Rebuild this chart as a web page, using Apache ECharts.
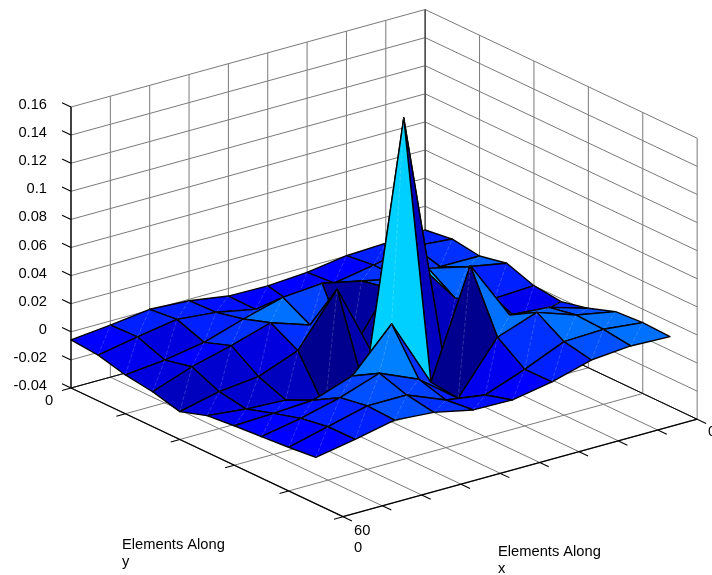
<!DOCTYPE html>
<html>
<head>
<meta charset="utf-8">
<style>html,body{margin:0;padding:0;background:#fff}#c{width:712px;height:575px}</style>
<script src="https://cdn.jsdelivr.net/npm/echarts@6/dist/echarts.min.js"></script>
</head>
<body>
<div id="c"></div>
<script>
// tick labels
const zTicks = [-0.04,-0.02,0,0.02,0.04,0.06,0.08,0.1,0.12,0.14,0.16];
const yTicks = [0,12,24,36,48,60];
const xTickCount = 10;
// surface heights: one row per step along x, one value per step along y (6 units)
const zRow0 = [-.0058,-.0074,-.0124,-.0152,-.0202,-.0139,-.0119,-.0105,-.0089,-.0069];
const zRow1 = [-.0029,-.0022,-.0095,-.0051,-.0137,-.0169,-.0108,-.0052,-.0020,-.0018];
const zRow2 = [.0006,.0026,-.0046,.0022,-.0107,-.0182,-.0092,.0018,.0051,.0042];
const zRow3 = [-.0010,-.0001,.0043,.0108,.0001,-.0316,.0004,.0115,.0052,.0020];
const zRow4 = [-.0054,-.0057,.0120,.0015,.0361,-.0257,.0297,-.0005,-.0061,-.0040];
const zRow5 = [-.0059,-.0103,.0143,-.0275,-.0227,.1594,-.0195,-.0218,-.0102,-.0046];
const zRow6 = [-.0039,-.0024,.0082,.0124,.0400,-.0170,.0558,.0140,.0003,.0005];
const zRow7 = [.0002,.0027,.0022,.0187,.0065,.0145,.0130,.0240,.0123,.0084];
const zRow8 = [.0015,.0083,.0030,.0121,-.0012,-.0096,.0107,.0144,.0134,.0107];
const zRow9 = [.0031,.0058,.0029,.0069,.0001,-.0021,.0023,.0091,.0104,.0096];
const zRows = [zRow0,zRow1,zRow2,zRow3,zRow4,zRow5,zRow6,zRow7,zRow8,zRow9];
// colour data of each face (index into the colormap)
const cRow0 = [7,6,5,3,5,6,7,7,7];
const cRow1 = [9,5,7,4,4,8,8,9,9];
const cRow2 = [9,9,10,5,3,3,11,12,12];
const cRow3 = [8,10,14,10,0,4,15,11,10];
const cRow4 = [7,10,11,10,2,20,10,9,8];
const cRow5 = [7,10,1,1,3,3,0,6,7];
const cRow6 = [7,10,11,19,3,4,14,10,9];
const cRow7 = [9,10,13,13,9,10,13,14,12];
const cRow8 = [9,10,13,9,6,9,12,14,14];
const cRows = [cRow0,cRow1,cRow2,cRow3,cRow4,cRow5,cRow6,cRow7,cRow8];

function colour(k){
  const g = k > 7 ? Math.min(255,(k-7)*16) : 0;
  const b = Math.min(255,143+16*k);
  return 'rgb(0,'+g+','+b+')';
}
// oblique view of the box: s = steps along y, x = steps along x
function view(s,x,z){
  return [71+27.2*s+39.35*x, 331.8+12.87*s-10.83*x-1405*z];
}
const zLo = zTicks[0], zHi = zTicks[zTicks.length-1];
const sEnd = yTicks[yTicks.length-1]/6, xEnd = xTickCount-1;

const GRID='#7a7a7a', AXIS='#000';
const segs=[];
function seg(a,b,col,w){segs.push([a,b,col,w]);}
// left wall
for(let x=0;x<=xEnd;x++) seg([0,x,zLo],[0,x,zHi],GRID,1);
zTicks.forEach(z=>seg([0,0,z],[0,xEnd,z],GRID,1));
// right wall
yTicks.forEach(y=>seg([y/6,xEnd,zLo],[y/6,xEnd,zHi],GRID,1));
zTicks.forEach(z=>seg([0,xEnd,z],[sEnd,xEnd,z],GRID,1));
// floor
yTicks.forEach(y=>seg([y/6,0,zLo],[y/6,xEnd,zLo],GRID,1));
for(let x=0;x<=xEnd;x++) seg([0,x,zLo],[sEnd,x,zLo],GRID,1);
// axes and box edges
seg([0,0,zLo],[0,0,zHi],AXIS,1.3);
seg([0,xEnd,zLo],[0,xEnd,zHi],'#333',1);
seg([0,0,zLo],[sEnd,0,zLo],AXIS,1.3);
seg([sEnd,0,zLo],[sEnd,xEnd,zLo],AXIS,1.3);
seg([0,0,zLo],[0,xEnd,zLo],AXIS,1);
seg([0,xEnd,zLo],[sEnd,xEnd,zLo],AXIS,1);
// ticks
zTicks.forEach(z=>seg([0,0,z],[-0.33,0,z],AXIS,1.1));
yTicks.forEach(y=>seg([y/6,0,zLo],[y/6,-0.23,zLo],AXIS,1.1));
for(let x=0;x<=xEnd;x++) seg([sEnd,x,zLo],[sEnd+0.33,x,zLo],AXIS,1.1);

// faces, back to front
const faces=[];
for(let x=xEnd-1;x>=0;x--) for(let s=0;s<sEnd-1;s++) faces.push([s,x,cRows[x][s]]);

const FONT='14.7px "Liberation Sans", Arial, sans-serif';
const labels=zTicks.map(z=>{
  const p=view(0,0,z);
  return {t:String(z),x:47,y:p[1]-2,a:'right'};
});
labels.push({t:'0',x:45,y:400.5,a:'left'});
labels.push({t:String(yTicks[yTicks.length-1]),x:354,y:531,a:'left'});
labels.push({t:'0',x:354,y:548,a:'left'});
labels.push({t:'0',x:708,y:432,a:'left'});
labels.push({t:'Elements Along',x:122,y:544.5,a:'left'});
labels.push({t:'y',x:122,y:562,a:'left'});
labels.push({t:'Elements Along',x:498,y:551.5,a:'left'});
labels.push({t:'x',x:498,y:569,a:'left'});

const chart=echarts.init(document.getElementById('c'),null,{renderer:'canvas',width:712,height:575});
const idx=a=>a.map((_,i)=>[i]);
chart.setOption({
  animation:false,
  backgroundColor:'#fff',
  grid:{left:0,right:0,top:0,bottom:0},
  xAxis:{type:'value',min:0,max:712,show:false},
  yAxis:{type:'value',min:0,max:575,inverse:true,show:false},
  tooltip:{show:false},
  series:[
    {type:'custom',coordinateSystem:'cartesian2d',clip:false,silent:true,z:1,data:idx(segs),
     renderItem(p,api){
       const s=segs[api.value(0)];
       const a=api.coord(view(...s[0])), b=api.coord(view(...s[1]));
       return {type:'line',shape:{x1:a[0],y1:a[1],x2:b[0],y2:b[1]},style:{stroke:s[2],lineWidth:s[3]}};
     }},
    {type:'custom',coordinateSystem:'cartesian2d',clip:false,silent:true,z:2,data:idx(faces),
     renderItem(p,api){
       const f=faces[api.value(0)], s=f[0], x=f[1];
       const pt=(a,b)=>api.coord(view(a,b,zRows[b][a]));
       const q=[pt(s,x),pt(s+1,x),pt(s+1,x+1),pt(s,x+1)];
       return {type:'group',children:[
         {type:'polygon',shape:{points:q},style:{fill:colour(f[2]),stroke:'#000',lineWidth:1.4,lineJoin:'round'}},
         {type:'line',shape:{x1:q[1][0],y1:q[1][1],x2:q[3][0],y2:q[3][1]},
          style:{stroke:'rgba(255,255,255,0.32)',lineWidth:0.6,lineDash:[4,2]}}
       ]};
     }},
    {type:'custom',coordinateSystem:'cartesian2d',clip:false,silent:true,z:3,data:idx(labels),
     renderItem(p,api){
       const l=labels[api.value(0)];
       const c=api.coord([l.x,l.y]);
       return {type:'text',style:{text:l.t,x:c[0],y:c[1],font:FONT,fill:'#000',align:l.a,verticalAlign:'middle'}};
     }}
  ]
});
</script>
</body>
</html>
